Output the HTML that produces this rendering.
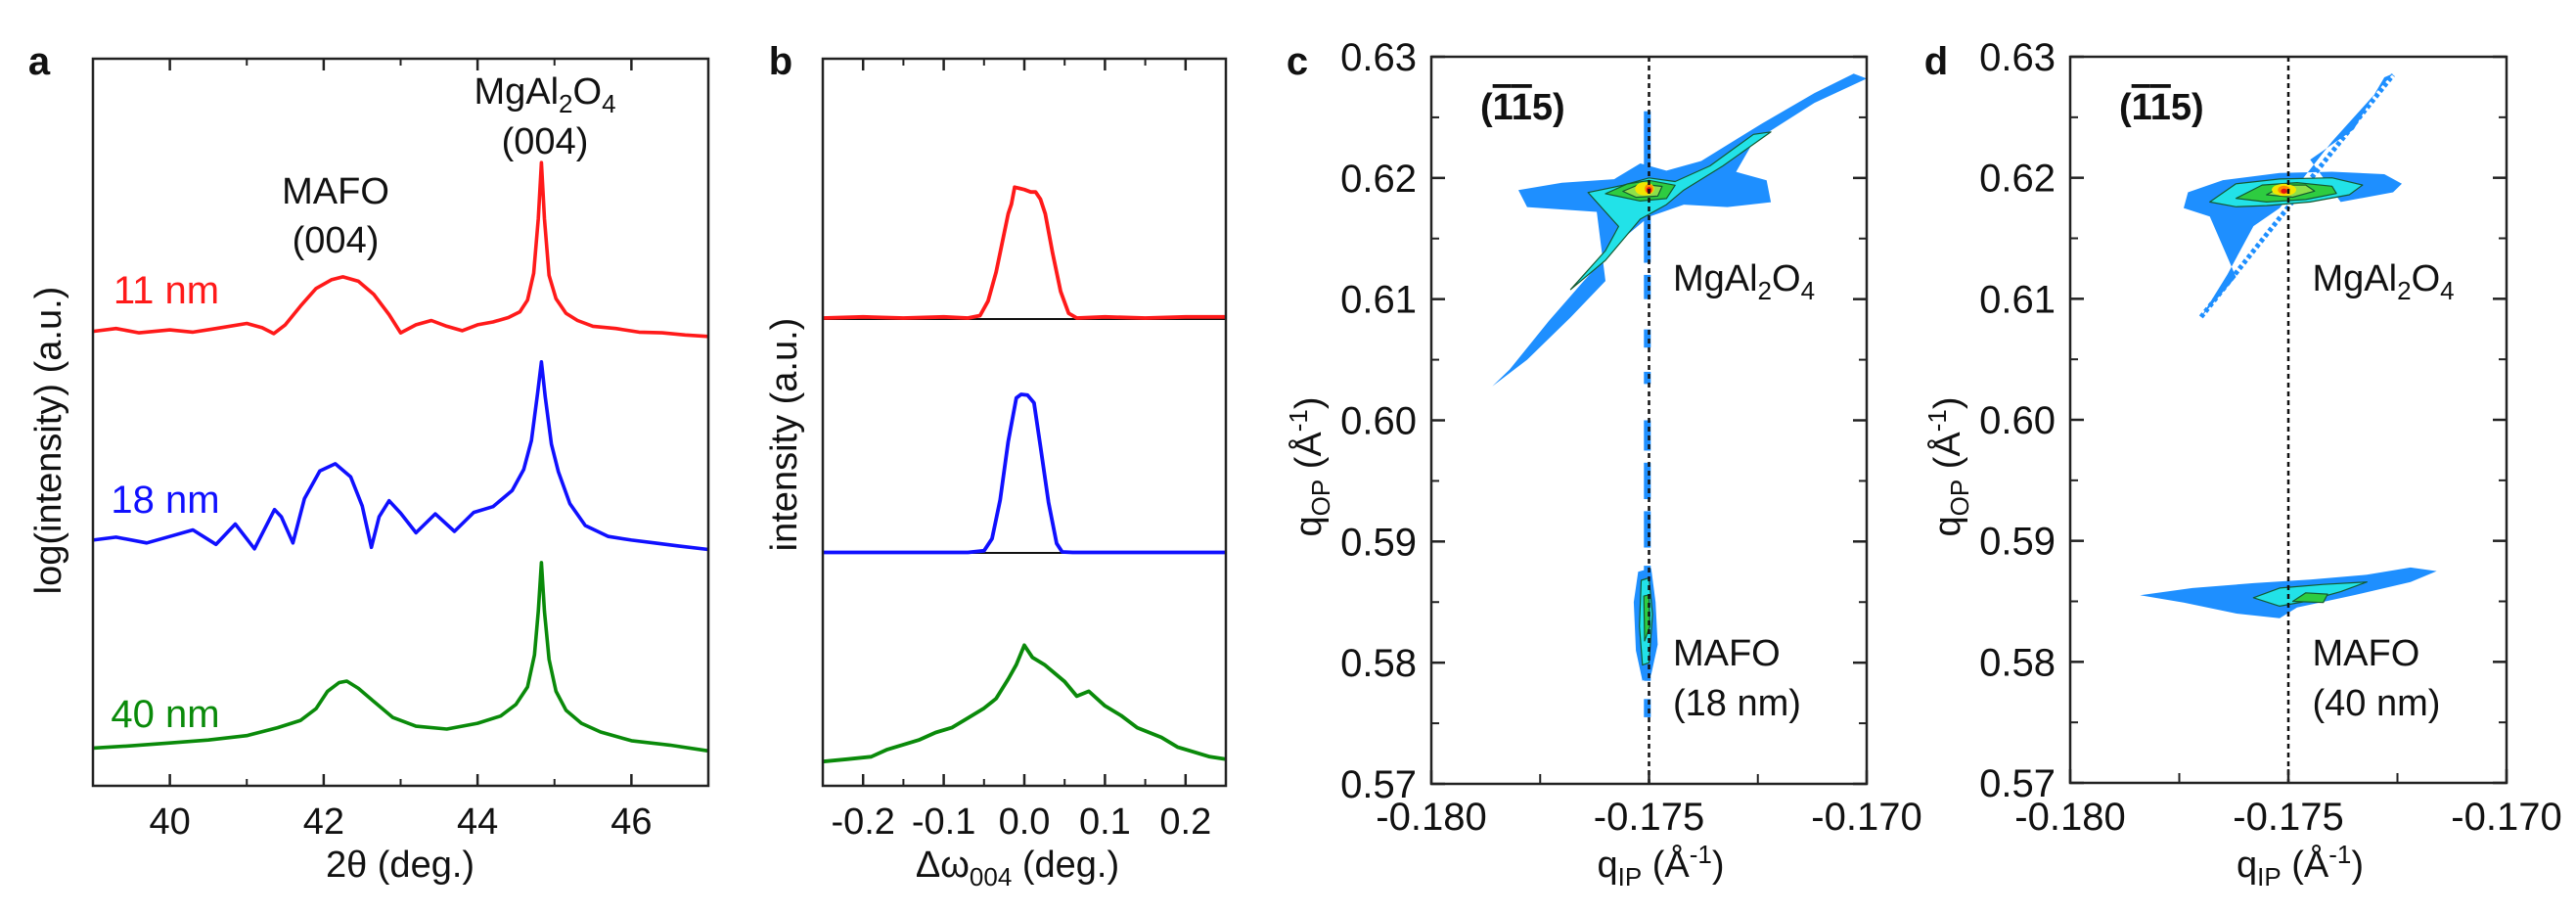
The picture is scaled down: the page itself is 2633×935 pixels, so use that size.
<!DOCTYPE html>
<html><head><meta charset="utf-8">
<style>
html,body{margin:0;padding:0;background:#fff;}
svg{display:block;font-family:"Liberation Sans",Arial,sans-serif;}
</style></head>
<body>
<svg id="fig" xmlns="http://www.w3.org/2000/svg" width="2633" height="935" viewBox="0 0 2633 935"></svg>
<script>
// ---------- Panel a data (2theta deg, log intensity a.u. 0..100) ----------
const aRedX = [39,39.3,39.6,40,40.3,40.6,41,41.2,41.35,41.5,41.7,41.9,42.1,42.25,42.45,42.65,42.85,43,43.2,43.4,43.6,43.8,44,44.2,44.4,44.55,44.65,44.73,44.79,44.83,44.87,44.93,45.02,45.15,45.3,45.5,45.8,46.1,46.4,46.7,47];
const aRedY = [62.5,62.9,62.3,62.7,62.4,62.9,63.6,63.0,62.2,63.4,66.0,68.4,69.6,70.0,69.4,67.6,64.8,62.3,63.4,64.0,63.2,62.6,63.4,63.8,64.4,65.2,66.8,70.5,78.0,85.7,78.0,70.2,67.0,65.0,64.0,63.2,62.9,62.4,62.3,62.0,61.8];
const aBlueX = [39,39.3,39.7,40,40.3,40.6,40.85,41.1,41.36,41.45,41.6,41.75,41.95,42.15,42.35,42.5,42.62,42.72,42.85,43.0,43.2,43.45,43.7,43.95,44.2,44.45,44.6,44.7,44.78,44.83,44.88,44.96,45.05,45.2,45.4,45.7,46,46.3,46.6,47];
const aBlueY = [33.8,34.2,33.4,34.3,35.2,33.2,36.0,32.6,38.0,37.0,33.4,39.5,43.3,44.3,42.5,38.5,32.8,37.0,39.2,37.5,34.8,37.4,35.0,37.6,38.4,40.6,43.5,47.5,54.0,58.3,53.5,47.0,43.2,38.8,35.8,34.3,33.8,33.4,33.0,32.5];
const aGreenX = [39,39.5,40,40.5,41,41.4,41.7,41.9,42.05,42.2,42.3,42.45,42.65,42.9,43.2,43.6,44,44.3,44.5,44.65,44.74,44.79,44.83,44.87,44.93,45.02,45.15,45.35,45.6,46,46.5,47];
const aGreenY = [5.2,5.5,5.9,6.3,6.9,8.0,9.0,10.6,13.0,14.2,14.4,13.4,11.6,9.4,8.2,7.8,8.6,9.6,11.2,13.6,18.0,24.0,30.7,24.0,17.4,13.0,10.4,8.6,7.4,6.2,5.6,4.8];
const aXTicks = [40,42,44,46];
const aXMinor = [41,43,45];

// ---------- Panel b data (delta omega deg, stacked intensity 0..3) ----------
const bRedX = [-0.25,-0.2,-0.15,-0.1,-0.07,-0.055,-0.045,-0.035,-0.025,-0.02,-0.016,-0.012,-0.006,0,0.008,0.014,0.02,0.026,0.035,0.045,0.055,0.065,0.1,0.15,0.2,0.25];
const bRedY = [1.93,1.935,1.93,1.935,1.93,1.94,2.0,2.12,2.28,2.36,2.4,2.47,2.465,2.46,2.45,2.45,2.42,2.36,2.2,2.04,1.95,1.93,1.935,1.93,1.935,1.935];
const bBlueX = [-0.25,-0.15,-0.07,-0.05,-0.04,-0.03,-0.02,-0.01,-0.004,0.004,0.012,0.02,0.03,0.04,0.047,0.06,0.15,0.25];
const bBlueY = [0.963,0.963,0.963,0.97,1.02,1.18,1.42,1.6,1.615,1.612,1.58,1.4,1.17,1.0,0.965,0.963,0.963,0.963];
const bGreenX = [-0.25,-0.22,-0.19,-0.17,-0.15,-0.13,-0.11,-0.09,-0.07,-0.05,-0.035,-0.02,-0.01,0,0.01,0.025,0.05,0.065,0.08,0.1,0.12,0.14,0.17,0.19,0.21,0.23,0.25];
const bGreenY = [0.10,0.11,0.12,0.15,0.17,0.19,0.22,0.24,0.28,0.32,0.36,0.44,0.50,0.58,0.53,0.50,0.43,0.37,0.39,0.33,0.29,0.24,0.20,0.16,0.14,0.12,0.11];
const bDividers = [1.926,0.961];
const bXTicks = [-0.2,-0.1,0.0,0.1,0.2];
const bXMinor = [-0.15,-0.05,0.05,0.15];

// ---------- Panels c,d data (qIP, qOP in 1/Angstrom) ----------
const qYTicks = [0.57,0.58,0.59,0.60,0.61,0.62,0.63];
const qXTicks = [-0.180,-0.175,-0.170];
const levelColors = ["#1e8fff","#22e2e8","#2ecc40","#8ee04a","#f2e600","#ff8a00","#e01010"];
const cPolys = [
 [0,-0.1786,0.6028,-0.1778,0.6050,-0.1768,0.6085,-0.1760,0.6115,-0.1762,0.6172,-0.1778,0.6176,-0.1780,0.6190,-0.1770,0.6196,-0.1758,0.6199,-0.1752,0.6212,-0.1746,0.6206,-0.1738,0.6214,-0.1724,0.6245,-0.1712,0.6270,-0.1703,0.6286,-0.1700,0.6282,-0.1712,0.6262,-0.1726,0.6230,-0.1730,0.6205,-0.1723,0.6198,-0.1722,0.6180,-0.1732,0.6176,-0.1742,0.6178,-0.1750,0.6168,-0.1756,0.6150,-0.1765,0.6115,-0.1773,0.6082,-0.1782,0.6042],
 [1,-0.1768,0.6108,-0.1760,0.6140,-0.1757,0.6160,-0.1764,0.6188,-0.1756,0.6194,-0.1750,0.6200,-0.1744,0.6197,-0.1736,0.6210,-0.1726,0.6236,-0.1722,0.6238,-0.1733,0.6210,-0.1742,0.6190,-0.1746,0.6178,-0.1752,0.6166,-0.1760,0.6132],
 [2,-0.1760,0.6187,-0.1755,0.6195,-0.1750,0.6198,-0.1744,0.6194,-0.1746,0.6183,-0.1752,0.6181],
 [3,-0.1756,0.6189,-0.1752,0.6195,-0.1747,0.6193,-0.1748,0.6185,-0.1753,0.6184],
 [0,-0.17525,0.5875,-0.17495,0.5878,-0.17485,0.5850,-0.17480,0.5815,-0.17495,0.5790,-0.17515,0.5785,-0.17530,0.5810,-0.17535,0.5850],
 [1,-0.17518,0.5868,-0.17500,0.5870,-0.17492,0.5840,-0.17500,0.5800,-0.17515,0.5798,-0.17522,0.5830],
 [2,-0.17512,0.5855,-0.17500,0.5856,-0.17498,0.5830,-0.17510,0.5818]
];
const cPeaks = [[-0.1751,0.6191,0.00022,0.00055,4],[-0.1750,0.6191,0.0001,0.0004,5],[-0.1750,0.6190,0.00006,0.00025,6]];
const cStreakY = [0.5755,0.5770,0.5785,0.5880,0.5895,0.5925,0.5935,0.5965,0.5975,0.6000,0.6030,0.6040,0.6060,0.6075,0.6100,0.6120,0.6130,0.6255];
const dPolys = [
 [0,-0.1770,0.6085,-0.1762,0.6118,-0.1768,0.6168,-0.1774,0.6175,-0.1773,0.6188,-0.1765,0.6198,-0.1752,0.6204,-0.1740,0.6205,-0.1728,0.6203,-0.1724,0.6195,-0.1726,0.6188,-0.1738,0.6180,-0.1745,0.6215,-0.1735,0.6240,-0.1728,0.6283,-0.1726,0.6286,-0.1740,0.6230,-0.1752,0.6175,-0.1758,0.6160,-0.1764,0.6120],
 [1,-0.1768,0.6180,-0.1762,0.6195,-0.1752,0.6199,-0.1740,0.6200,-0.1733,0.6194,-0.1736,0.6186,-0.1745,0.6180,-0.1755,0.6177,-0.1762,0.6176],
 [2,-0.1762,0.6183,-0.1756,0.6194,-0.1748,0.6196,-0.1740,0.6193,-0.1739,0.6187,-0.1746,0.6182,-0.1755,0.6180],
 [3,-0.1755,0.6186,-0.1751,0.6194,-0.1746,0.6194,-0.1744,0.6189,-0.1749,0.6184],
 [0,-0.1784,0.5855,-0.1772,0.5861,-0.1758,0.5865,-0.1745,0.5868,-0.1732,0.5872,-0.1722,0.5878,-0.1716,0.5875,-0.1722,0.5866,-0.1735,0.5855,-0.1748,0.5845,-0.1752,0.5836,-0.1762,0.5840,-0.1774,0.5849],
 [1,-0.1758,0.5853,-0.1752,0.5861,-0.1742,0.5864,-0.1732,0.5866,-0.1738,0.5858,-0.1746,0.5850,-0.1752,0.5846],
 [2,-0.1749,0.5850,-0.1746,0.5857,-0.1741,0.5856,-0.1742,0.5849]
];
const dPeaks = [[-0.1751,0.6190,0.00028,0.0005,4],[-0.1751,0.6190,0.00014,0.00035,5],[-0.1751,0.6189,0.00007,0.0002,6]];

const NS = "http://www.w3.org/2000/svg";
const svg = document.getElementById('fig');
function mk(tag, attrs, parent){
  const e = document.createElementNS(NS, tag);
  for (const k in attrs) e.setAttribute(k, attrs[k]);
  (parent||svg).appendChild(e);
  return e;
}
function txt(str, x, y, size, anchor, parent, extra){
  const t = mk('text', Object.assign({x:x, y:y, 'font-size':size, 'text-anchor':anchor||'middle', fill:'#111'}, extra||{}), parent);
  t.textContent = str;
  return t;
}
function scale(d0,d1,r0,r1){ return v => r0 + (v-d0)/(d1-d0)*(r1-r0); }
function lineD(xs, ys, sx, sy){ return xs.map((x,i)=>(i?'L':'M')+sx(x).toFixed(1)+','+sy(ys[i]).toFixed(1)).join(''); }

// ================= Panel a =================
const ga = mk('g', {});


const axL=95, axR=724, ayT=60, ayB=803;
const ax = scale(39,47,axL,axR), ay = scale(0,100,ayB,ayT);
[[aRedX,aRedY,'#ff1a1a','series-11nm'],[aBlueX,aBlueY,'#1010ff','series-18nm'],[aGreenX,aGreenY,'#0a8a0a','series-40nm']].forEach(s=>{
  const p = mk('path',{d:lineD(s[0],s[1],ax,ay),fill:'none',stroke:s[2],'stroke-width':3.6,'stroke-linejoin':'round'},ga);
  
  
});
const fa = mk('rect',{x:axL,y:ayT,width:axR-axL,height:ayB-ayT,fill:'none',stroke:'#222','stroke-width':2.5},ga);


aXTicks.forEach(v=>{
  mk('line',{x1:ax(v),x2:ax(v),y1:ayB,y2:ayB-12,stroke:'#222','stroke-width':2.5},ga);
  mk('line',{x1:ax(v),x2:ax(v),y1:ayT,y2:ayT+12,stroke:'#222','stroke-width':2.5},ga);
  const t = txt(String(v), ax(v), 852, 38, 'middle', ga);
  
  
});
aXMinor.forEach(v=>{
  mk('line',{x1:ax(v),x2:ax(v),y1:ayB,y2:ayB-7,stroke:'#222','stroke-width':2},ga);
  mk('line',{x1:ax(v),x2:ax(v),y1:ayT,y2:ayT+7,stroke:'#222','stroke-width':2},ga);
});
let t;
t = txt('2θ (deg.)', 409, 896, 38, 'middle', ga);  
t = txt('log(intensity) (a.u.)', 0, 0, 38, 'middle', ga, {transform:'translate(62,450) rotate(-90)'});  
t = txt('11 nm', 170, 310, 40, 'middle', ga, {fill:'#ff1a1a'});  
t = txt('18 nm', 169, 524, 40, 'middle', ga, {fill:'#1010ff'});  
t = txt('40 nm', 169, 743, 40, 'middle', ga, {fill:'#0a8a0a'});  
t = txt('MAFO', 343, 208, 38, 'middle', ga);  
txt('(004)', 343, 258, 38, 'middle', ga);
t = mk('text',{x:557,y:106,'font-size':38,'text-anchor':'middle',fill:'#111'},ga);
t.innerHTML = 'MgAl<tspan font-size="26" dy="9">2</tspan><tspan dy="-9">O</tspan><tspan font-size="26" dy="9">4</tspan>';
 
txt('(004)', 557, 157, 38, 'middle', ga);
t = txt('a', 40, 76, 40, 'middle', ga, {'font-weight':'bold'});  

// ================= Panel b =================
const gb = mk('g', {});


const bxL=841, bxR=1253;
const bx = scale(-0.25,0.25,bxL,bxR), by = scale(0,3,ayB,ayT);
bDividers.forEach(v=>{
  const l = mk('line',{x1:bxL,x2:bxR,y1:by(v),y2:by(v),stroke:'#111','stroke-width':2},gb);
  
  
});
[[bRedX,bRedY,'#ff1a1a','rocking-11nm'],[bBlueX,bBlueY,'#1010ff','rocking-18nm'],[bGreenX,bGreenY,'#0a8a0a','rocking-40nm']].forEach(s=>{
  const p = mk('path',{d:lineD(s[0],s[1],bx,by),fill:'none',stroke:s[2],'stroke-width':3.8,'stroke-linejoin':'round'},gb);
  
  
});
const fb = mk('rect',{x:bxL,y:ayT,width:bxR-bxL,height:ayB-ayT,fill:'none',stroke:'#222','stroke-width':2.5},gb);


bXTicks.forEach(v=>{
  mk('line',{x1:bx(v),x2:bx(v),y1:ayB,y2:ayB-12,stroke:'#222','stroke-width':2.5},gb);
  mk('line',{x1:bx(v),x2:bx(v),y1:ayT,y2:ayT+12,stroke:'#222','stroke-width':2.5},gb);
  const tt = txt(v.toFixed(1), bx(v), 852, 38, 'middle', gb);
  
  
});
bXMinor.forEach(v=>{
  mk('line',{x1:bx(v),x2:bx(v),y1:ayB,y2:ayB-7,stroke:'#222','stroke-width':2},gb);
  mk('line',{x1:bx(v),x2:bx(v),y1:ayT,y2:ayT+7,stroke:'#222','stroke-width':2},gb);
});
t = mk('text',{x:1040,y:896,'font-size':38,'text-anchor':'middle',fill:'#111'},gb);
t.innerHTML = 'Δω<tspan font-size="26" dy="9">004</tspan><tspan dy="-9"> (deg.)</tspan>';
 
t = txt('intensity (a.u.)', 0, 0, 38, 'middle', gb, {transform:'translate(814,444) rotate(-90)'});  
t = txt('b', 798, 76, 40, 'middle', gb, {'font-weight':'bold'});  

// ================= Panels c and d =================
function rsmPanel(name, L, R, T, B, polys, peaks, streakY, letter, filmLabel, diagPts){
  const g = mk('g', {});
  
  
  const sx = scale(-0.180,-0.170,L,R), sy = scale(0.57,0.63,B,T);
  if (streakY){
    for (let i=0;i+1<streakY.length;i+=2){
      const s = mk('rect',{x:sx(-0.17505)-3,y:sy(streakY[i+1]),width:7,height:sy(streakY[i])-sy(streakY[i+1]),fill:levelColors[0]},g);
      
      
    }
  }
  if (diagPts){
    const dl = mk('line',{x1:sx(diagPts[0]),y1:sy(diagPts[1]),x2:sx(diagPts[2]),y2:sy(diagPts[3]),stroke:levelColors[0],'stroke-width':5,'stroke-dasharray':'4 3'},g);
    
    
  }
  polys.forEach(p=>{
    const pts=[]; for(let i=1;i<p.length;i+=2) pts.push(sx(p[i]).toFixed(1)+','+sy(p[i+1]).toFixed(1));
    const pg = mk('polygon',{points:pts.join(' '),fill:levelColors[p[0]],stroke:'#145a30','stroke-width':p[0]?1.2:0,'stroke-linejoin':'round'},g);
    
    
  });
  peaks.forEach(p=>{
    const e = mk('ellipse',{cx:sx(p[0]),cy:sy(p[1]),rx:Math.abs(sx(p[0]+p[2])-sx(p[0])),ry:Math.abs(sy(p[1]+p[3])-sy(p[1])),fill:levelColors[p[4]]},g);
    
    
  });
  const dash = mk('line',{x1:sx(-0.175),x2:sx(-0.175),y1:T,y2:B,stroke:'#111','stroke-width':2.5,'stroke-dasharray':'5 4'},g);
  
  
  const fr = mk('rect',{x:L,y:T,width:R-L,height:B-T,fill:'none',stroke:'#222','stroke-width':2.5},g);
  
  
  qYTicks.forEach((v,i)=>{
    mk('line',{x1:L,x2:L+14,y1:sy(v),y2:sy(v),stroke:'#222','stroke-width':2.5},g);
    mk('line',{x1:R,x2:R-14,y1:sy(v),y2:sy(v),stroke:'#222','stroke-width':2.5},g);
    if (i<qYTicks.length-1){
      const m=(v+qYTicks[i+1])/2;
      mk('line',{x1:L,x2:L+8,y1:sy(m),y2:sy(m),stroke:'#222','stroke-width':2},g);
      mk('line',{x1:R,x2:R-8,y1:sy(m),y2:sy(m),stroke:'#222','stroke-width':2},g);
    }
    const tl = txt(v.toFixed(2), L-15, sy(v)+14, 40, 'end', g);
    
    
  });
  qXTicks.forEach((v,i)=>{
    mk('line',{x1:sx(v),x2:sx(v),y1:B,y2:B-14,stroke:'#222','stroke-width':2.5},g);
    if (i<qXTicks.length-1){
      const m=(v+qXTicks[i+1])/2;
      mk('line',{x1:sx(m),x2:sx(m),y1:B,y2:B-10,stroke:'#222','stroke-width':2},g);
    }
    const tl = txt(v.toFixed(3), sx(v), 848, 40, 'middle', g);
    
    
  });
  let a = mk('text',{x:(L+R)/2+12,y:896,'font-size':38,'text-anchor':'middle',fill:'#111'},g);
  a.innerHTML = 'q<tspan font-size="26" dy="9">IP</tspan><tspan dy="-9"> (Å</tspan><tspan font-size="26" dy="-14">-1</tspan><tspan dy="14">)</tspan>';
   
  a = mk('text',{x:0,y:0,'font-size':38,'text-anchor':'middle',fill:'#111',transform:'translate('+(L-113)+',477) rotate(-90)'},g);
  a.innerHTML = 'q<tspan font-size="26" dy="9">OP</tspan><tspan dy="-9"> (Å</tspan><tspan font-size="26" dy="-14">-1</tspan><tspan dy="14">)</tspan>';
   
  a = mk('text',{x:L+50,y:122,'font-size':38,'text-anchor':'start',fill:'#111','font-weight':'bold'},g);
  a.innerHTML = '(<tspan text-decoration="overline">1</tspan><tspan text-decoration="overline">1</tspan>5)';
   
  a = mk('text',{x:sx(-0.17445),y:297,'font-size':38,'text-anchor':'start',fill:'#111'},g);
  a.innerHTML = 'MgAl<tspan font-size="26" dy="9">2</tspan><tspan dy="-9">O</tspan><tspan font-size="26" dy="9">4</tspan>';
   
  a = txt('MAFO', sx(-0.17445), 680, 38, 'start', g);
   
  txt(filmLabel, sx(-0.17445), 731, 38, 'start', g);
  a = txt(letter, L-137, 76, 40, 'middle', g, {'font-weight':'bold'});
   
}
rsmPanel('panel-c', 1463, 1908, 58, 801, cPolys, cPeaks, cStreakY, 'c', '(18 nm)', null);
rsmPanel('panel-d', 2116, 2562, 58, 800, dPolys, dPeaks, null, 'd', '(40 nm)', [-0.1770,0.6085,-0.1726,0.6285]);
</script>
</body></html>
